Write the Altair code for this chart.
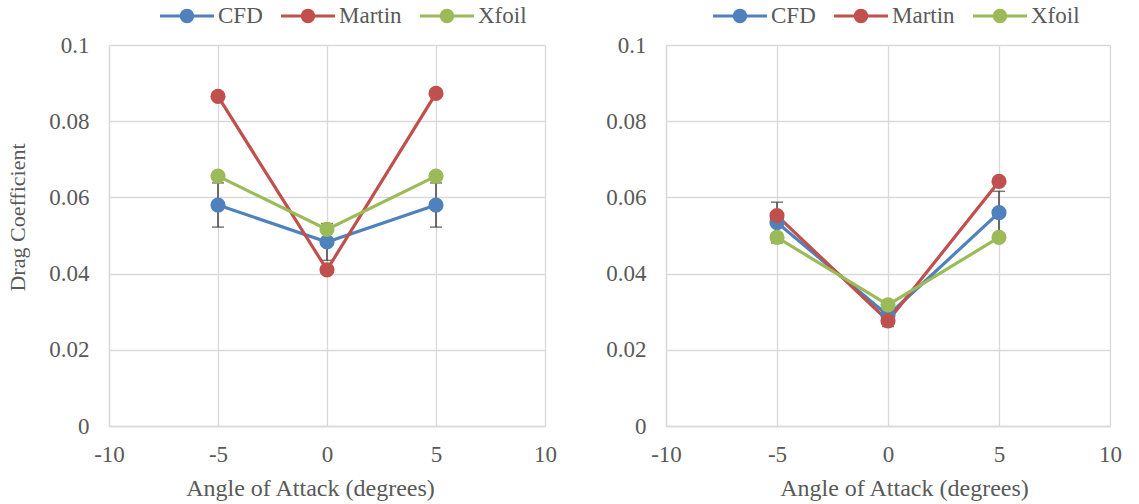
import altair as alt
import pandas as pd

# Angle of attack (degrees) at which each case was evaluated
angles = [-5, 0, 5]
series_names = ["CFD", "Martin", "Xfoil"]
series_colors = ["#4F81BD", "#C0504D", "#9BBB59"]

# Drag coefficient, first configuration
left_cfd = [0.0580, 0.0483, 0.0580]
left_martin = [0.0865, 0.0410, 0.0873]
left_xfoil = [0.0656, 0.0516, 0.0656]

# Drag coefficient, second configuration
right_cfd = [0.0534, 0.0290, 0.0560]
right_martin = [0.0552, 0.0276, 0.0642]
right_xfoil = [0.0495, 0.0318, 0.0495]

# CFD results carry a +/-10 % error bar
error_pct = 0.10

x_ticks = [-10, -5, 0, 5, 10]
y_ticks = [0, 0.02, 0.04, 0.06, 0.08, 0.1]

FONT = "Liberation Serif"
TEXT = "#595959"
GRID = "#D9D9D9"

# legend glyph: a short line with a dot in its middle
LEGEND_SYMBOL = (
    "M-2.25,-0.125 L2.25,-0.125 L2.25,0.125 L-2.25,0.125 Z "
    "M0.6,0 A0.6,0.6 0 1,1 -0.6,0 A0.6,0.6 0 1,1 0.6,0 Z"
)


def panel(cfd, martin, xfoil, width, y_title, title_x, legend_x):
    rows = []
    for name, vals in zip(series_names, [cfd, martin, xfoil]):
        for a, v in zip(angles, vals):
            rows.append({"Angle": a, "Cd": v, "Series": name})
    df = pd.DataFrame(rows)
    err = pd.DataFrame({
        "Angle": angles,
        "lo": [v * (1 - error_pct) for v in cfd],
        "hi": [v * (1 + error_pct) for v in cfd],
    })

    x = alt.X(
        "Angle:Q",
        scale=alt.Scale(domain=[-10, 10], nice=False, zero=False),
        axis=alt.Axis(
            values=x_ticks, title="Angle of Attack (degrees)", grid=True,
            ticks=False, labelPadding=17, titlePadding=10, titleX=title_x,
            labelExpr="'' + datum.value", titleFontSize=24, labelFlush=False,
        ),
    )
    y_axis = dict(
        values=y_ticks, format=".2~f", grid=True, ticks=False, labelPadding=20,
        labelFlush=False,
    )
    if y_title:
        y_axis.update(title="Drag Coefficient", titlePadding=19, titleY=172)
    else:
        y_axis.update(title=None)
    y = alt.Y("Cd:Q", scale=alt.Scale(domain=[0, 0.1], nice=False),
              axis=alt.Axis(**y_axis))

    legend = alt.Legend(
        title=None, orient="none", direction="horizontal",
        legendX=legend_x, legendY=-41,
        symbolType=LEGEND_SYMBOL, symbolSize=576, symbolStrokeWidth=0,
        symbolOpacity=1, labelOffset=19, columnPadding=18,
        labelFont=FONT, labelFontSize=23, labelColor=TEXT,
    )
    color = alt.Color(
        "Series:N",
        scale=alt.Scale(domain=series_names, range=series_colors),
        sort=series_names,
        legend=legend,
    )

    bars = alt.Chart(err).mark_rule(color="#404040", strokeWidth=1.5).encode(
        x=x, y="lo:Q", y2="hi:Q"
    )
    cap_lo = alt.Chart(err).mark_tick(
        color="#404040", thickness=1.5, size=12, orient="horizontal"
    ).encode(x=x, y="lo:Q")
    cap_hi = alt.Chart(err).mark_tick(
        color="#404040", thickness=1.5, size=12, orient="horizontal"
    ).encode(x=x, y="hi:Q")

    dots = alt.Chart(df).mark_circle(size=230, opacity=1).encode(
        x=x, y=y, color=color
    )
    lines = alt.Chart(df).mark_line(strokeWidth=3.2).encode(
        x=x, y=y, color=color, detail="Series:N"
    )
    return alt.layer(bars, cap_lo, cap_hi, lines, dots).properties(
        width=width, height=381
    )


left = panel(left_cfd, left_martin, left_xfoil, 436, True, 201, 66)
right = panel(right_cfd, right_martin, right_xfoil, 444, False, 238, 62)

chart = (
    alt.hconcat(left, right, spacing=48)
    .resolve_scale(color="independent")
    .resolve_legend(color="independent")
    .properties(padding={"left": 6, "top": 4, "right": 5, "bottom": 2})
    .configure_view(stroke=None)
    .configure_axis(
        labelFont=FONT, titleFont=FONT, labelFontSize=23, titleFontSize=23,
        labelColor=TEXT, titleColor=TEXT, titleFontWeight="normal",
        gridColor=GRID, gridWidth=1.3, domainColor=GRID, domainWidth=1.3,
    )
    .configure_axisY(titleFontSize=22)
)

chart.save("out.html", embed_options={"renderer": "svg", "actions": False})
